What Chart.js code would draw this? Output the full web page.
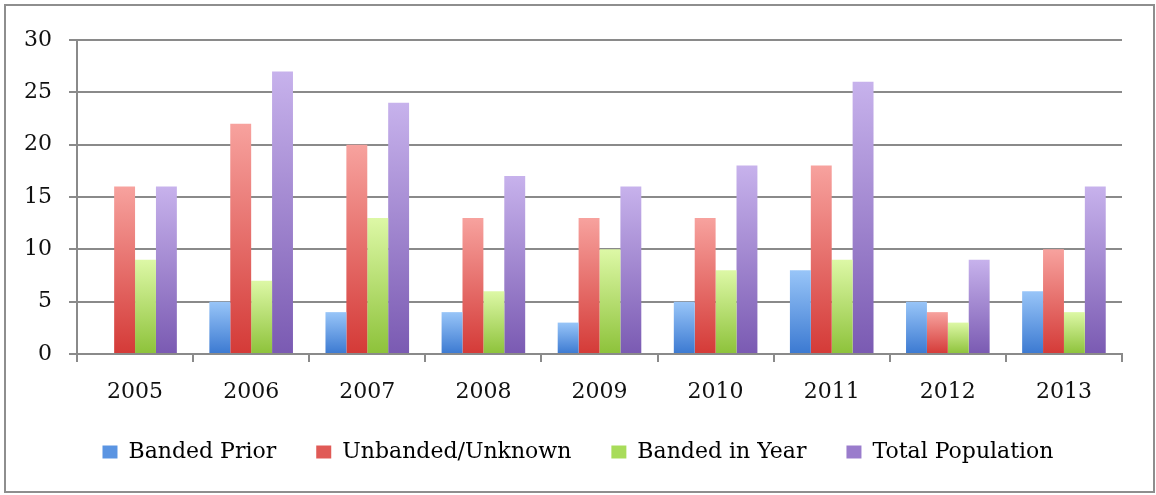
<!DOCTYPE html>
<html lang="en">
<head>
<meta charset="UTF-8">
<title>Population by year</title>
<script src="https://cdn.jsdelivr.net/npm/chart.js"></script>
<style>
    html, body { margin: 0; padding: 0; background: #fff; }
    #wrap { position: relative; width: 1156px; height: 495px; }
</style>
</head>
<body>
<div id="wrap"><canvas id="grafico"></canvas></div>
<script>
    // datos
    const years = ["2005", "2006", "2007", "2008", "2009", "2010", "2011", "2012", "2013"];
    const bandedPrior = [0, 5, 4, 4, 3, 5, 8, 5, 6];
    const unbanded = [16, 22, 20, 13, 13, 13, 18, 4, 10];
    const bandedInYear = [9, 7, 13, 6, 10, 8, 9, 3, 4];
    const totalPopulation = [16, 27, 24, 17, 16, 18, 26, 9, 16];
    const yTicks = [0, 5, 10, 15, 20, 25, 30];

    // colores: [arriba, abajo, leyenda]
    const colores = {
        blue:   ["#98c5f8", "#3b79d1", "#5a94e2"],
        red:    ["#f7a29e", "#d43a37", "#e05a56"],
        green:  ["#ddf8a6", "#8dc23a", "#a8dc5a"],
        purple: ["#c7b2ec", "#7a5ab2", "#9a7ccc"]
    };

    const font = "'DejaVu Serif', serif";

    // degradado vertical por barra (de su tope a la base)
    function degradado(c) {
        return function(context) {
            const chart = context.chart;
            const y = chart.scales.y;
            if (!y || !chart.chartArea || context.type !== "data") return c[2];
            const v = context.raw || 0;
            const top = y.getPixelForValue(v);
            const base = y.getPixelForValue(0);
            if (base - top < 1) return c[2];
            const g = chart.ctx.createLinearGradient(0, top, 0, base);
            g.addColorStop(0, c[0]);
            g.addColorStop(1, c[1]);
            return g;
        };
    }

    // marco gris alrededor de todo
    const marco = {
        id: "marco",
        afterDraw(chart) {
            const ctx = chart.ctx;
            ctx.save();
            ctx.strokeStyle = "#8e8e8e";
            ctx.lineWidth = 2;
            ctx.strokeRect(5, 5, 1149, 487);
            ctx.restore();
        }
    };

    const series = [
        { label: "Banded Prior", data: bandedPrior, c: colores.blue },
        { label: "Unbanded/Unknown", data: unbanded, c: colores.red },
        { label: "Banded in Year", data: bandedInYear, c: colores.green },
        { label: "Total Population", data: totalPopulation, c: colores.purple }
    ];

    let ctx = document.getElementById("grafico").getContext("2d");
    let chart = new Chart(ctx, {
        type: "bar",
        data: {
            labels: years,
            datasets: series.map(s => ({
                label: s.label,
                data: s.data,
                backgroundColor: degradado(s.c),
                borderWidth: 0,
                categoryPercentage: 0.72,
                barPercentage: 1.0
            }))
        },
        options: {
            responsive: true,
            maintainAspectRatio: false,
            animation: false,
            layout: { padding: { top: 40, right: 0, left: 0, bottom: 22 } },
            plugins: {
                tooltip: { enabled: false },
                legend: {
                    position: "bottom",
                    labels: {
                        font: { family: font, size: 22 },
                        color: "#111",
                        boxWidth: 15,
                        boxHeight: 13,
                        padding: 40,
                        generateLabels(chart) {
                            return series.map((s, i) => ({
                                text: s.label,
                                fillStyle: s.c[2],
                                strokeStyle: s.c[2],
                                lineWidth: 0,
                                hidden: false,
                                datasetIndex: i
                            }));
                        }
                    }
                }
            },
            scales: {
                x: {
                    grid: {
                        drawOnChartArea: false,
                        drawTicks: true,
                        tickLength: 8,
                        color: "#8a8a8a",
                        lineWidth: 2
                    },
                    border: { color: "#8a8a8a", width: 2 },
                    ticks: {
                        font: { family: font, size: 22 },
                        color: "#111",
                        padding: 17
                    },
                    afterFit(scale) { scale.height = 47; }
                },
                y: {
                    min: 0,
                    max: 30,
                    afterBuildTicks(scale) { scale.ticks = yTicks.map(v => ({ value: v })); },
                    grid: {
                        color: "#8a8a8a",
                        lineWidth: 2,
                        tickLength: 8
                    },
                    border: { color: "#8a8a8a", width: 2 },
                    ticks: {
                        font: { family: font, size: 22 },
                        color: "#111",
                        padding: 17
                    },
                    afterFit(scale) { scale.width = 77; }
                },
                // eje vacio a la derecha, solo para dejar margen sin descentrar la leyenda
                margen: {
                    position: "right",
                    min: 0,
                    max: 30,
                    grid: { display: false },
                    border: { display: false },
                    ticks: { display: false },
                    afterFit(scale) { scale.width = 34; }
                }
            }
        },
        plugins: [marco]
    });
</script>
</body>
</html>
